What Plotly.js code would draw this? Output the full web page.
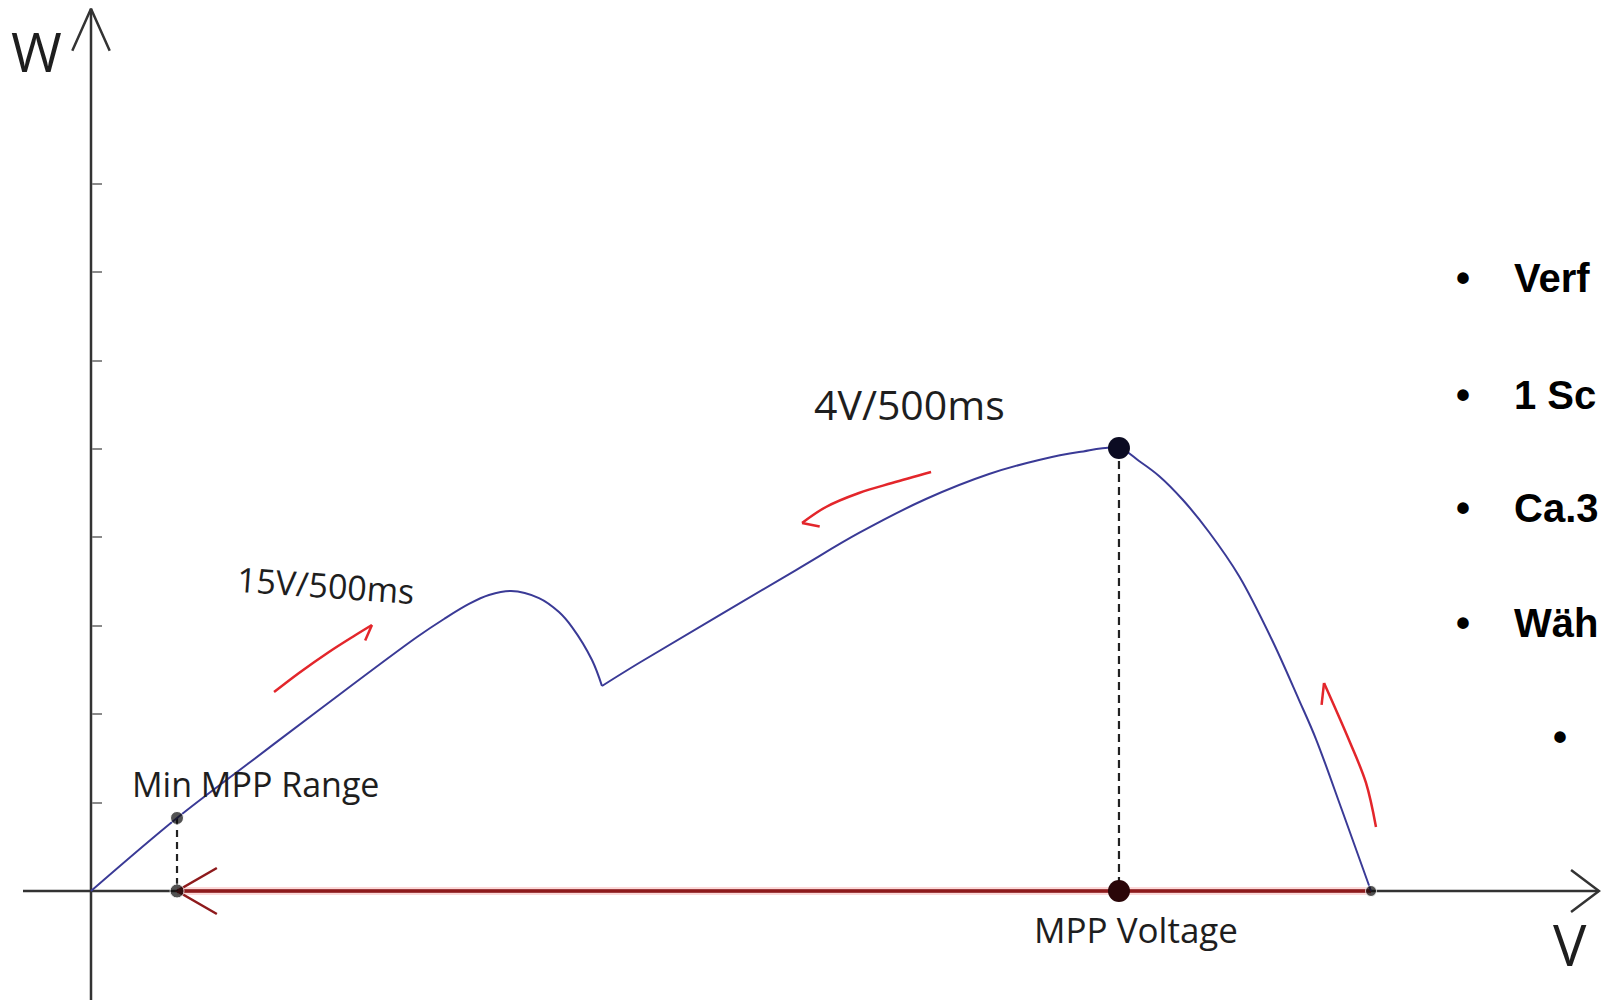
<!DOCTYPE html>
<html>
<head>
<meta charset="utf-8">
<script src="https://cdn.plot.ly/plotly-3.0.1.min.js"></script>
<style>
  html, body { margin: 0; padding: 0; background: #ffffff; overflow: hidden; }
  #chart { width: 1601px; height: 1000px; }
</style>
</head>
<body>
<div id="chart"></div>
<script>
// ---------------- Data (arbitrary V / W units) ----------------
// P-V curve with a local peak, a shading dip and the global MPP
const curveV = [0, 6.72, 12.34, 17.81, 25.47, 27.58, 29.53, 31.09, 32.81, 35.0, 36.56, 37.58, 39.14, 39.92,
                42.81, 55.08, 60.0, 65.23, 70.16, 74.06, 77.19, 80.31,
                81.88, 83.44, 85.31, 87.34, 89.69, 92.27, 94.38, 95.70, 97.73, 100];
const curveW = [0, 0.826, 1.448, 2.048, 2.873, 3.077, 3.247, 3.348, 3.394, 3.314, 3.156, 2.986, 2.613, 2.319,
                2.579, 3.631, 4.050, 4.434, 4.717, 4.876, 4.966, 5.011,
                4.864, 4.695, 4.423, 4.061, 3.563, 2.839, 2.160, 1.719, 0.916, 0];
const valleyIndex = 13;

const minMppV = 6.72,  minMppW = 0.826;   // "Min MPP Range"
const mppV = 80.31,    mppW = 5.011;      // MPP
const vocV = 100;                          // open-circuit end of the curve

// Red sweep-direction arrows (drawn next to the curve)
const sweep15V = [14.30, 16.25, 18.59, 20.55, 21.95];
const sweep15W = [2.25, 2.466, 2.704, 2.885, 3.009];
const sweep4V  = [65.63, 62.58, 60.0, 57.42, 55.55];
const sweep4W  = [4.740, 4.615, 4.502, 4.344, 4.163];
const sweepUpV = [100.39, 99.61, 98.28, 96.33];
const sweepUpW = [0.724, 1.222, 1.708, 2.353];

const yTickVals = [1, 2, 3, 4, 5, 6, 7, 8];
const yAxisTopW = 9.98;

const labels = {
  w: "W", v: "V",
  fast: "15V/500ms", slow: "4V/500ms",
  minMpp: "Min MPP Range", mppVoltage: "MPP Voltage"
};
const bulletTexts = ["Verf", "1 Sc", "Ca.3", "Wäh"];

// ---------------- Layout helpers ----------------
const W = 1601, H = 1000;
const xr = [-91 / 12.8, (1601 - 91) / 12.8];
const yr = [(891 - 1000) / 88.4, 891 / 88.4];

function toPx(x, y) {
  return [(x - xr[0]) / (xr[1] - xr[0]) * W, (yr[1] - y) / (yr[1] - yr[0]) * H];
}
function toData(px, py) {
  return [xr[0] + px / W * (xr[1] - xr[0]), yr[1] - py / H * (yr[1] - yr[0])];
}
// barb from a tip, pointing back toward prev, rotated by ang degrees, length len px
function barb(tipX, tipY, prevX, prevY, len, ang) {
  const t = toPx(tipX, tipY), p = toPx(prevX, prevY);
  let dx = p[0] - t[0], dy = p[1] - t[1];
  const n = Math.hypot(dx, dy); dx /= n; dy /= n;
  const a = ang * Math.PI / 180;
  const rx = dx * Math.cos(a) - dy * Math.sin(a);
  const ry = dx * Math.sin(a) + dy * Math.cos(a);
  return toData(t[0] + rx * len, t[1] + ry * len);
}
function head(tipX, tipY, prevX, prevY, len, ang, both) {
  const b1 = barb(tipX, tipY, prevX, prevY, len, ang);
  if (!both) return { x: [b1[0], tipX], y: [b1[1], tipY] };
  const b2 = barb(tipX, tipY, prevX, prevY, len, -ang);
  return { x: [b1[0], tipX, b2[0]], y: [b1[1], tipY, b2[1]] };
}

const traces = [];
const blue = '#3a3a96', red = '#e3262b', darkRed = '#8e1a1c', axisCol = '#333333';

function line(x, y, color, width, extra) {
  traces.push(Object.assign({ type: 'scatter', mode: 'lines', x: x, y: y,
    line: { color: color, width: width }, hoverinfo: 'skip', showlegend: false }, extra || {}));
}

// Axes with arrowheads
const yBottom = yr[0];
line([0, 0], [yBottom, yAxisTopW], axisCol, 2.5);
const yHead = head(0, yAxisTopW, 0, 0, 46, 24, true);
line(yHead.x, yHead.y, axisCol, 2.5);
const xLeft = toData(23, 0)[0];
const xTip = toData(1599, 0)[0];
line([xLeft, xTip], [0, 0], axisCol, 2.5);
const xHead = head(xTip, 0, 0, 0, 35, 37, true);
line(xHead.x, xHead.y, axisCol, 2.5);

// Red return sweep along the V axis
line([vocV, minMppV], [0, 0], 'rgba(240,80,80,0.22)', 8);
line([vocV, minMppV], [0, 0], darkRed, 3.5);
const rHead = head(minMppV, 0, vocV, 0, 46, 30, true);
line(rHead.x, rHead.y, darkRed, 2.5);

// Dashed drop lines
line([mppV, mppV], [mppW, 0], '#222222', 2, { line: { color: '#222222', width: 2.2, dash: '8px,5px' } });
line([minMppV, minMppV], [minMppW, 0], '#222222', 2, { line: { color: '#222222', width: 2.2, dash: '7px,5px' } });

// P-V curve (two smooth segments joined at the sharp dip)
line(curveV.slice(0, valleyIndex + 1), curveW.slice(0, valleyIndex + 1), blue, 2,
     { line: { color: blue, width: 2, shape: 'spline', smoothing: 1 } });
line(curveV.slice(valleyIndex), curveW.slice(valleyIndex), blue, 2,
     { line: { color: blue, width: 2, shape: 'spline', smoothing: 1 } });

// Red sweep arrows
function sweep(vx, wy, ang, len) {
  line(vx, wy, red, 2.5, { line: { color: red, width: 2.5, shape: 'spline', smoothing: 1 } });
  const n = vx.length;
  const h = head(vx[n - 1], wy[n - 1], vx[n - 2], wy[n - 2], len, ang, false);
  line(h.x, h.y, red, 2.5);
}
sweep(sweep15V, sweep15W, -35, 17);
sweep(sweep4V, sweep4W, 45, 18);
sweep(sweepUpV, sweepUpW, 30, 22);

// Markers
traces.push({ type: 'scatter', mode: 'markers', x: [mppV, mppV], y: [mppW, 0],
  marker: { size: 22, color: ['#0b0b22', '#2a0608'] }, hoverinfo: 'skip', showlegend: false });
traces.push({ type: 'scatter', mode: 'markers', x: [minMppV, minMppV, vocV], y: [minMppW, 0, 0],
  marker: { size: [13, 14, 11], color: '#0a0a0a' }, hoverinfo: 'skip', showlegend: false });

// ---------------- Annotations ----------------
function ann(text, px, py, size, opts) {
  return Object.assign({
    text: text, xref: 'paper', yref: 'paper', x: px / W, y: 1 - py / H,
    xanchor: 'center', yanchor: 'middle', showarrow: false,
    font: { family: 'Open Sans, Noto Sans, sans-serif', size: size, color: '#1e1e1e' }
  }, opts || {});
}
const annotations = [
  ann(labels.w, 36, 50, 55),
  ann(labels.v, 1570, 944, 56),
  ann(labels.fast, 326, 585, 34, { textangle: 4 }),
  ann(labels.slow, 909, 404, 41),
  ann(labels.minMpp, 256, 784, 34),
  ann(labels.mppVoltage, 1136, 929, 35)
];
const bulletY = [278, 395, 508, 623];
const bfont = { family: 'Liberation Sans, Arial, sans-serif', size: 40, color: '#000000', weight: 'bold' };
bulletTexts.forEach(function (t, i) {
  annotations.push(ann('•', 1463, bulletY[i], 40, { font: bfont }));
  annotations.push(ann('<b>' + t + '</b>', 1512, bulletY[i], 40, { xanchor: 'left', font: bfont }));
});
annotations.push(ann('•', 1560, 737, 40, { font: bfont }));

const layout = {
  width: W, height: H,
  margin: { l: 0, r: 0, t: 0, b: 0, pad: 0 },
  paper_bgcolor: '#ffffff', plot_bgcolor: '#ffffff',
  showlegend: false,
  xaxis: { range: xr, showgrid: false, showticklabels: false, ticks: '', showline: false,
           zeroline: false, fixedrange: true },
  yaxis: { range: yr, showgrid: false, showticklabels: false, showline: false,
           anchor: 'free', position: 91 / 1601, side: 'left',
           ticks: 'inside', tickvals: yTickVals, ticklen: 10, tickwidth: 2, tickcolor: '#8a8a8a',
           zeroline: false, fixedrange: true },
  annotations: annotations
};

Plotly.newPlot('chart', traces, layout, { displayModeBar: false, staticPlot: true });
</script>
</body>
</html>
